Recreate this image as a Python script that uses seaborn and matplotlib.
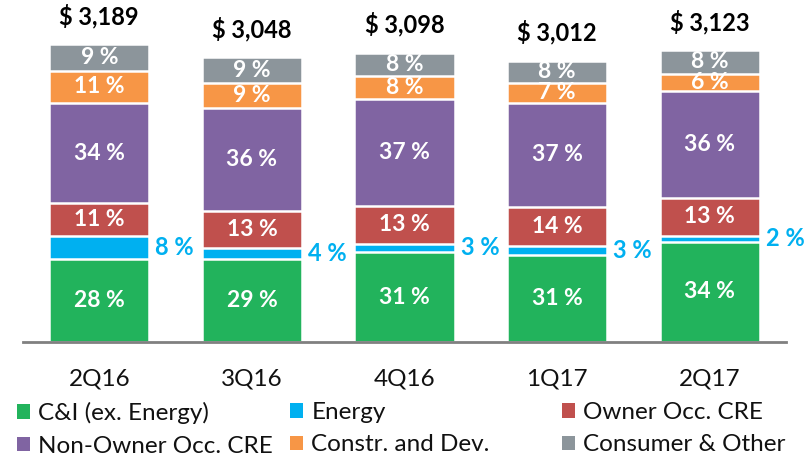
import matplotlib
matplotlib.use("Agg")
import matplotlib.pyplot as plt
import seaborn as sns
import numpy as np
import pandas as pd
from matplotlib.patches import Patch

quarters = ["2Q16", "3Q16", "4Q16", "1Q17", "2Q17"]
totals = [3189, 3048, 3098, 3012, 3123]
total_labels = ["$ 3,189", "$ 3,048", "$ 3,098", "$ 3,012", "$ 3,123"]
cni = [28, 29, 31, 31, 34]
energy = [8, 4, 3, 3, 2]
owner_occ = [11, 13, 13, 14, 13]
non_owner = [34, 36, 37, 37, 36]
constr = [11, 9, 8, 7, 6]
consumer = [9, 9, 8, 8, 8]

series_names = ["C&I (ex. Energy)", "Energy", "Owner Occ. CRE",
                "Non-Owner Occ. CRE", "Constr. and Dev.", "Consumer & Other"]
series_pcts = [cni, energy, owner_occ, non_owner, constr, consumer]
colors = ["#22B35C", "#00B0F0", "#C0504D", "#8064A2", "#F79646", "#8C959B"]

sns.set_theme(style="white")
FONT = ["Lato", "DejaVu Sans"]
plt.rcParams["font.family"] = FONT

pct = np.array(series_pcts, dtype=float)
sums = pct.sum(axis=0)
amounts = pct / sums * np.array(totals, dtype=float)
cum = np.cumsum(amounts, axis=0)

fig = plt.figure(figsize=(8.12, 4.58), dpi=100)
ax = fig.add_axes([23 / 812, 116 / 458, 763 / 812, 342 / 458])

W = 0.656
for i in range(len(series_names) - 1, -1, -1):
    df = pd.DataFrame({"quarter": quarters, "value": cum[i]})
    sns.barplot(data=df, x="quarter", y="value", color=colors[i], saturation=1,
                width=W, edgecolor="white", linewidth=1.8, ax=ax, errorbar=None)

ax.set_xlim(-0.5, 4.5)
ax.set_ylim(0, 3660)
ax.set_xlabel("")
ax.set_ylabel("")
ax.set_yticks([])
for s in ["top", "left", "right"]:
    ax.spines[s].set_visible(False)
ax.spines["bottom"].set_color("#808080")
ax.spines["bottom"].set_linewidth(2)
ax.tick_params(axis="x", length=0, pad=19, labelsize=17.5, labelcolor="#111111")

# segment labels
for i in range(len(series_names)):
    for j in range(len(quarters)):
        bottom = cum[i - 1][j] if i > 0 else 0
        mid = bottom + amounts[i][j] / 2
        label = f"{series_pcts[i][j]} %"
        if i == 1:
            ax.text(j + W / 2 + 0.04, mid, label, ha="left", va="center",
                    color="#00B0F0", fontsize=17, fontweight="bold")
        else:
            ax.text(j, mid, label, ha="center", va="center",
                    color="white", fontsize=16.5, fontweight="bold")

# totals
for j in range(len(quarters)):
    ax.text(j, totals[j] + 170, total_labels[j], ha="center", va="bottom",
            color="black", fontsize=17, fontweight="bold")

# legend: three columns placed individually
handles = [Patch(facecolor=c, edgecolor="none") for c in colors]
col_x = [17, 290, 562]
for k in range(3):
    idx = [k, k + 3]
    leg = fig.legend([handles[n] for n in idx], [series_names[n] for n in idx],
                     loc="upper left", bbox_to_anchor=(col_x[k] / 812, (458 - 402) / 458),
                     frameon=False, fontsize=17.5, handlelength=0.55, handleheight=0.55,
                     handletextpad=0.33, labelspacing=0.47, borderpad=0, borderaxespad=0)
    for t in leg.get_texts():
        t.set_color("#111111")

fig.savefig("out.png", dpi=100)
